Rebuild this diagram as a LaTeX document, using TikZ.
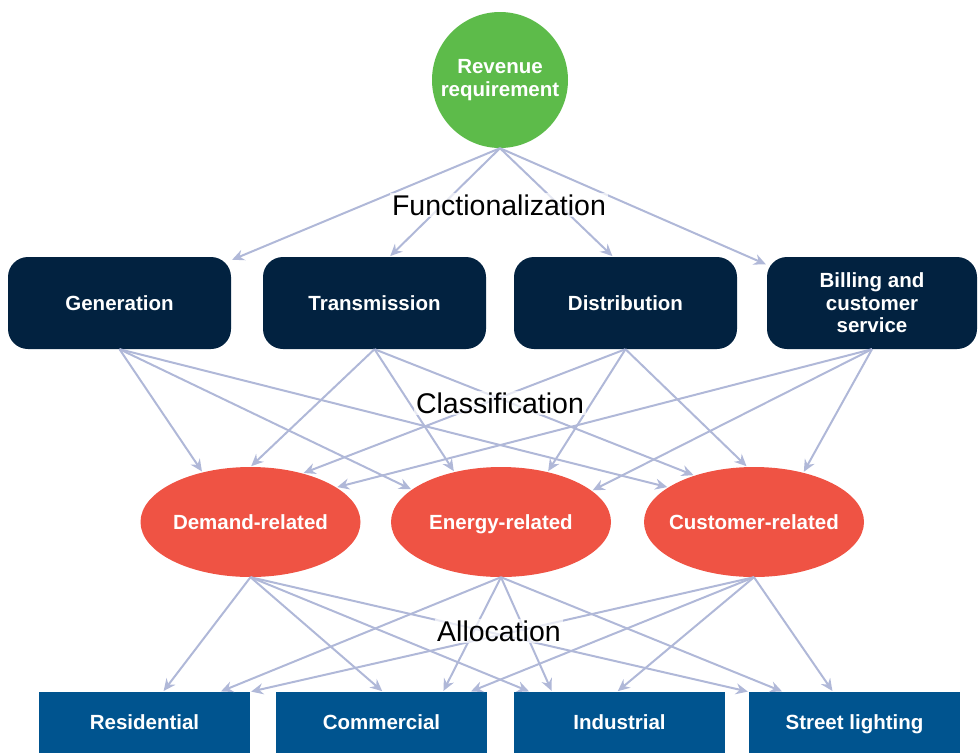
\documentclass[tikz,border=0pt]{standalone}
\usepackage{fontspec}
\setmainfont{Liberation Sans}
\usetikzlibrary{arrows.meta,calc,shapes.geometric}
\definecolor{revgreen}{RGB}{93,187,74}
\definecolor{funcnavy}{RGB}{2,34,64}
\definecolor{classred}{RGB}{239,83,68}
\definecolor{allocblue}{RGB}{0,84,143}
\definecolor{arrowlav}{RGB}{176,184,216}
\begin{document}
\begin{tikzpicture}[x=1pt,y=-1pt,
  conn/.style={draw=arrowlav, line width=2pt, -{Stealth[length=12pt,width=11pt,inset=4pt]}, shorten >=1pt},
  boldtext/.style={text=white, font=\bfseries\fontsize{20.5}{22.5}\selectfont, align=center},
  oneline/.style={text height=14.7pt, text depth=0pt},
  revnode/.style={circle, fill=revgreen, minimum size=136pt, inner sep=0pt, boldtext},
  funcbox/.style={rectangle, rounded corners=20pt, fill=funcnavy, minimum width=223pt, minimum height=92pt, inner sep=0pt, boldtext},
  classell/.style={ellipse, fill=classred, minimum width=220pt, minimum height=110pt, inner ysep=0pt, inner xsep=-40pt, boldtext, oneline},
  custbox/.style={rectangle, fill=allocblue, minimum width=211pt, minimum height=61pt, inner sep=0pt, boldtext, oneline},
  stagelabel/.style={font=\fontsize{28.5}{31}\selectfont, text=black, fill=white, fill opacity=0.7, text opacity=1, inner sep=2pt}
]
\useasboundingbox (0,0) rectangle (978,753);

% nodes
\node[revnode] (rev) at (500,80) {Revenue\\requirement};

\node[funcbox, oneline] (gen) at (119.5,303) {Generation};
\node[funcbox, oneline] (tra) at (374.5,303) {Transmission};
\node[funcbox, oneline] (dis) at (625.5,303) {Distribution};
\node[funcbox, minimum width=210pt] (bil) at (872,303) {Billing and\\customer\\service};

\node[classell] (dem) at (250.5,522) {Demand-related};
\node[classell] (ene) at (501,522) {Energy-related};
\node[classell] (cus) at (754,522) {Customer-related};

\node[custbox] (res) at (144.5,722.5) {Residential};
\node[custbox] (com) at (381.5,722.5) {Commercial};
\node[custbox] (ind) at (619.5,722.5) {Industrial};
\node[custbox] (str) at (854.5,722.5) {Street lighting};

% functionalization
\draw[conn] (rev.south) -- (gen.21);
\draw[conn] (rev.south) -- (tra.72);
\draw[conn] (rev.south) -- (dis.105);
\draw[conn] (rev.south) -- (bil.160);

% classification
\draw[conn] (gen.south) -- (dem.134);
\draw[conn] (gen.south) -- (ene.160);
\draw[conn] (gen.south) -- (cus.158);
\draw[conn] (tra.south) -- (dem.90);
\draw[conn] (tra.south) -- (ene.133);
\draw[conn] (tra.south) -- (cus.142);
\draw[conn] (dis.south) -- (dem.43);
\draw[conn] (dis.south) -- (ene.47);
\draw[conn] (dis.south) -- (cus.97);
\draw[conn] (bil.south) -- (dem.22);
\draw[conn] (bil.south) -- (ene.19);
\draw[conn] (bil.south) -- (cus.45);

% allocation
\draw[conn] (dem.south) -- ($(res.north)+(18.5,0)$);
\draw[conn] (dem.south) -- ($(com.north)+(1.5,0)$);
\draw[conn] (dem.south) -- ($(ind.north)+(-89.5,0)$);
\draw[conn] (dem.south) -- (str.north west);
\draw[conn] (ene.south) -- ($(res.north)+(75.5,0)$);
\draw[conn] (ene.south) -- ($(com.north)+(61.5,0)$);
\draw[conn] (ene.south) -- ($(ind.north)+(-67.5,0)$);
\draw[conn] (ene.south) -- ($(str.north)+(-71.5,0)$);
\draw[conn] (cus.south) -- (res.north east);
\draw[conn] (cus.south) -- ($(com.north)+(88.5,0)$);
\draw[conn] (cus.south) -- ($(ind.north)+(-2.5,0)$);
\draw[conn] (cus.south) -- ($(str.north)+(-21.5,0)$);

% stage labels
\node[stagelabel] (lfun) at (499,205) {Functionalization};
\node[stagelabel] (lcla) at (500,403) {Classification};
\node[stagelabel] (lall) at (499,631) {Allocation};
\end{tikzpicture}
\end{document}
